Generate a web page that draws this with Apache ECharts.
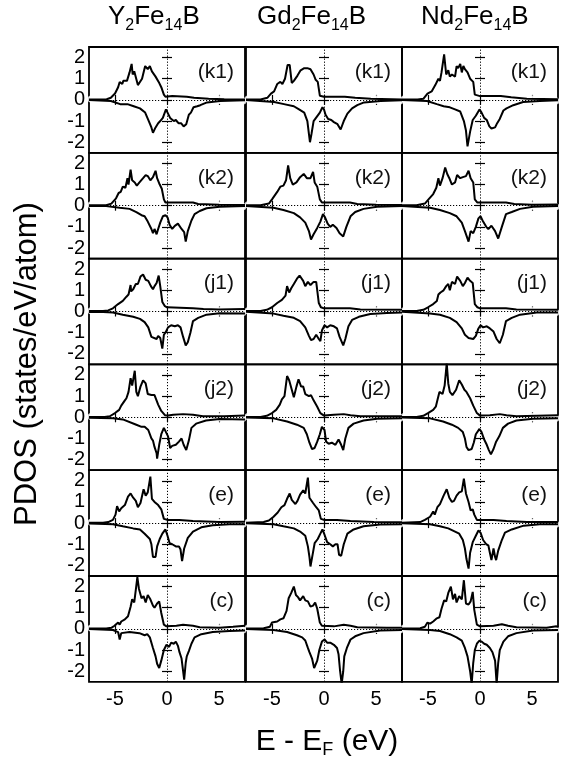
<!DOCTYPE html>
<html><head><meta charset="utf-8">
<script src="https://cdn.jsdelivr.net/npm/echarts@6/dist/echarts.min.js"></script>
<style>html,body{margin:0;padding:0;background:#fff}#c{width:567px;height:765px}</style>
</head><body><div id="c"></div>
<script>
// ---- data: [energy (eV), PDOS (states/eV/atom)] ----
const Y_k1_up=[[-7.5,0.02],[-5.8,0.03],[-5.4,0.1],[-5.0,0.3],[-4.7,0.6],[-4.55,0.85],[-4.3,0.75],[-4.2,0.9],[-3.85,0.9],[-3.6,1.3],[-3.4,1.7],[-3.3,1.2],[-3.15,1.35],[-2.8,0.7],[-2.4,1.0],[-2.1,1.6],[-1.85,1.45],[-1.65,1.6],[-1.45,1.35],[-1.1,1.1],[-0.8,0.85],[-0.55,0.6],[-0.3,0.25],[-0.15,0.15],[0.5,0.18],[1.9,0.15],[2.6,0.1],[4.0,0.05],[5.5,0.03],[7.5,0.02]];
const Y_k1_dn=[[-7.5,-0.01],[-5.4,-0.05],[-4.5,-0.2],[-3.8,-0.2],[-3.2,-0.3],[-2.6,-0.4],[-2.1,-0.6],[-1.75,-1.0],[-1.5,-1.3],[-1.35,-1.55],[-1.1,-1.3],[-0.85,-1.1],[-0.65,-1.0],[-0.4,-0.85],[-0.1,-0.45],[0.05,-0.5],[0.3,-0.85],[0.65,-1.0],[0.85,-0.95],[1.1,-1.1],[1.35,-1.1],[1.6,-1.25],[1.85,-1.15],[2.1,-0.7],[2.3,-0.6],[2.55,-0.35],[2.9,-0.3],[3.2,-0.25],[3.85,-0.12],[5.1,-0.05],[7.5,-0.02]];
const Gd_k1_up=[[-7.5,0.02],[-6.1,0.02],[-5.45,0.1],[-5.1,0.3],[-4.8,0.4],[-4.5,0.75],[-4.2,0.85],[-4.0,0.75],[-3.75,1.0],[-3.5,1.65],[-3.3,1.65],[-3.1,0.8],[-2.9,0.9],[-2.55,1.15],[-2.25,1.4],[-1.9,1.5],[-1.6,1.5],[-1.3,1.45],[-1.0,1.2],[-0.8,0.95],[-0.6,0.85],[-0.4,0.2],[0,0.15],[2.0,0.15],[3.0,0.1],[4.5,0.05],[7.5,0.02]];
const Gd_k1_dn=[[-7.5,-0.01],[-4.8,-0.1],[-3.85,-0.2],[-2.9,-0.3],[-2.4,-0.45],[-1.9,-0.6],[-1.6,-1.0],[-1.45,-1.6],[-1.35,-2.0],[-1.2,-1.6],[-1.0,-1.0],[-0.7,-0.8],[-0.4,-0.6],[-0.15,-0.35],[0,-0.45],[0.15,-0.7],[0.4,-0.9],[0.7,-0.95],[0.95,-1.05],[1.3,-1.15],[1.6,-1.4],[1.9,-1.0],[2.25,-0.65],[2.7,-0.4],[3.2,-0.25],[3.85,-0.12],[5.45,-0.05],[7.5,-0.02]];
const Nd_k1_up=[[-7.5,0.02],[-6.0,0.02],[-5.45,0.05],[-5.05,0.3],[-4.65,0.4],[-4.3,0.7],[-4.0,1.0],[-3.85,0.9],[-3.7,1.3],[-3.45,2.15],[-3.25,1.2],[-3.05,1.4],[-2.9,1.1],[-2.7,1.2],[-2.4,1.1],[-2.25,1.6],[-2.1,1.5],[-1.9,1.7],[-1.75,1.3],[-1.6,1.6],[-1.45,1.45],[-1.2,1.3],[-0.95,1.0],[-0.65,0.85],[-0.5,0.25],[0,0.18],[2.0,0.18],[3.0,0.12],[4.5,0.05],[7.5,0.03]];
const Nd_k1_dn=[[-7.5,-0.01],[-5.1,-0.05],[-4.15,-0.2],[-3.5,-0.3],[-2.9,-0.35],[-2.4,-0.45],[-1.9,-0.55],[-1.55,-1.0],[-1.35,-1.45],[-1.2,-2.2],[-0.95,-1.5],[-0.7,-0.95],[-0.4,-0.75],[-0.05,-0.45],[0.15,-0.6],[0.4,-0.85],[0.65,-0.95],[0.9,-1.25],[1.1,-1.35],[1.45,-1.3],[1.65,-1.1],[1.9,-0.9],[2.25,-0.5],[2.55,-0.4],[3.2,-0.25],[4.15,-0.1],[5.75,-0.05],[7.5,-0.02]];

const Y_k2_up=[[-7.5,0.02],[-5.85,0.02],[-5.35,0.1],[-4.9,0.35],[-4.65,0.6],[-4.45,0.65],[-4.25,0.9],[-4.0,0.85],[-3.8,1.3],[-3.7,1.0],[-3.5,1.7],[-3.35,1.2],[-3.1,1.1],[-2.9,0.95],[-2.65,1.1],[-2.3,1.3],[-2.05,1.45],[-1.85,1.4],[-1.6,1.2],[-1.35,1.35],[-1.1,1.65],[-0.95,1.3],[-0.7,1.0],[-0.5,0.8],[-0.3,0.3],[-0.15,0.15],[2.5,0.15],[3.0,0.08],[5.0,0.05],[7.5,0.03]];
const Y_k2_dn=[[-7.5,-0.01],[-5.85,-0.02],[-4.55,-0.1],[-3.6,-0.15],[-2.95,-0.3],[-2.45,-0.45],[-2.15,-0.5],[-1.85,-0.75],[-1.5,-1.1],[-1.35,-1.3],[-1.2,-1.1],[-1.0,-1.35],[-0.85,-1.1],[-0.65,-0.8],[-0.4,-0.5],[-0.15,-0.45],[0.05,-0.55],[0.25,-0.9],[0.5,-1.1],[0.75,-0.95],[1.05,-0.85],[1.4,-1.1],[1.65,-1.25],[1.8,-1.7],[2.0,-1.2],[2.35,-0.7],[2.65,-0.4],[3.15,-0.25],[3.8,-0.12],[5.05,-0.05],[7.5,-0.02]];
const Gd_k2_up=[[-7.5,0.02],[-6.1,0.02],[-5.3,0.1],[-5.0,0.3],[-4.5,0.65],[-4.2,0.9],[-3.9,0.95],[-3.65,1.2],[-3.45,1.9],[-3.25,1.3],[-3.0,1.0],[-2.65,1.1],[-2.3,1.35],[-1.95,1.5],[-1.65,1.3],[-1.3,1.3],[-1.05,1.6],[-0.9,1.1],[-0.65,0.9],[-0.4,0.3],[-0.2,0.15],[2.5,0.15],[3.2,0.08],[5.0,0.05],[7.5,0.03]];
const Gd_k2_dn=[[-7.5,-0.01],[-4.85,-0.1],[-3.9,-0.2],[-2.9,-0.35],[-2.3,-0.55],[-1.8,-0.8],[-1.45,-1.2],[-1.25,-1.6],[-1.0,-1.35],[-0.65,-1.05],[-0.35,-0.75],[-0.1,-0.4],[0.1,-0.55],[0.35,-0.85],[0.6,-1.0],[0.85,-0.9],[1.2,-1.05],[1.5,-1.3],[1.85,-1.45],[2.15,-1.0],[2.55,-0.5],[3.0,-0.3],[3.8,-0.15],[5.1,-0.05],[7.5,-0.02]];
const Nd_k2_up=[[-7.5,0.02],[-6.1,0.02],[-5.3,0.1],[-4.95,0.3],[-4.5,0.55],[-4.2,0.85],[-4.0,1.3],[-3.85,0.95],[-3.6,1.3],[-3.35,1.8],[-3.15,1.5],[-2.95,1.3],[-2.7,1.0],[-2.4,1.1],[-2.2,1.45],[-1.9,1.3],[-1.65,1.35],[-1.35,1.4],[-1.1,1.65],[-0.9,1.3],[-0.65,1.1],[-0.5,0.3],[-0.25,0.15],[2.5,0.15],[3.3,0.08],[5.0,0.05],[7.5,0.06]];
const Nd_k2_dn=[[-7.5,-0.01],[-4.8,-0.1],[-3.85,-0.2],[-2.9,-0.35],[-2.25,-0.5],[-1.75,-0.8],[-1.45,-1.2],[-1.3,-1.25],[-1.1,-1.7],[-0.9,-1.2],[-0.65,-1.3],[-0.4,-1.0],[-0.15,-0.6],[0.05,-0.5],[0.3,-0.75],[0.6,-1.0],[0.8,-1.1],[1.1,-0.95],[1.45,-1.2],[1.75,-1.55],[2.1,-1.0],[2.5,-0.4],[3.05,-0.3],[3.85,-0.15],[5.1,-0.05],[7.5,-0.02]];

const Y_j1_up=[[-7.5,0.02],[-6.15,0.02],[-5.65,0.05],[-5.2,0.15],[-4.7,0.35],[-4.25,0.5],[-3.9,0.7],[-3.7,0.8],[-3.5,1.25],[-3.45,0.95],[-3.25,1.05],[-3.0,1.3],[-2.8,1.3],[-2.55,1.65],[-2.3,1.75],[-2.05,1.5],[-1.8,1.45],[-1.55,1.2],[-1.35,1.05],[-1.2,1.2],[-1.0,1.35],[-0.8,1.7],[-0.65,1.2],[-0.45,0.45],[-0.2,0.25],[0,0.2],[2.5,0.15],[3.5,0.12],[5.0,0.1],[7.5,0.12]];
const Y_j1_dn=[[-7.5,-0.02],[-6.15,-0.02],[-5.2,-0.05],[-4.25,-0.15],[-3.25,-0.25],[-2.6,-0.35],[-2.15,-0.5],[-1.8,-0.75],[-1.5,-1.2],[-1.35,-1.25],[-1.0,-1.3],[-0.85,-1.15],[-0.65,-1.25],[-0.45,-1.75],[-0.3,-1.1],[-0.15,-1.0],[0.1,-0.75],[0.4,-0.65],[0.75,-0.7],[1.05,-0.65],[1.3,-0.75],[1.55,-1.2],[1.8,-1.6],[2.0,-1.45],[2.25,-1.0],[2.5,-0.45],[3.0,-0.3],[3.8,-0.15],[5.05,-0.08],[7.5,-0.1]];
const Gd_j1_up=[[-7.5,0.02],[-6.1,0.02],[-5.5,0.08],[-5.0,0.2],[-4.5,0.4],[-4.05,0.55],[-3.7,0.75],[-3.55,1.2],[-3.35,0.9],[-3.15,1.1],[-2.9,1.3],[-2.6,1.55],[-2.35,1.7],[-2.0,1.45],[-1.8,1.2],[-1.55,1.4],[-1.3,1.25],[-1.0,1.4],[-0.75,1.4],[-0.5,0.4],[-0.3,0.2],[0,0.15],[2.5,0.15],[3.5,0.1],[7.5,0.08]];
const Gd_j1_dn=[[-7.5,-0.01],[-4.85,-0.1],[-3.9,-0.2],[-2.9,-0.3],[-2.3,-0.45],[-1.8,-0.75],[-1.45,-1.15],[-1.25,-1.35],[-1.0,-1.3],[-0.75,-1.1],[-0.5,-1.3],[-0.35,-1.4],[-0.2,-0.9],[0.05,-0.65],[0.3,-0.75],[0.6,-0.65],[0.95,-0.7],[1.25,-0.8],[1.5,-1.2],[1.85,-1.6],[2.05,-1.3],[2.35,-0.7],[2.7,-0.4],[3.35,-0.25],[4.45,-0.12],[6.05,-0.07],[7.5,-0.05]];
const Nd_j1_up=[[-7.5,0.02],[-6.1,0.02],[-5.45,0.08],[-5.0,0.2],[-4.5,0.35],[-4.15,0.5],[-4.0,0.8],[-3.8,0.9],[-3.5,1.0],[-3.25,1.2],[-3.05,1.3],[-2.9,1.0],[-2.7,1.4],[-2.4,1.3],[-2.2,1.65],[-1.9,1.45],[-1.65,1.2],[-1.45,1.35],[-1.2,1.6],[-0.95,1.45],[-0.7,1.35],[-0.5,0.35],[-0.25,0.2],[0,0.15],[2.5,0.15],[3.5,0.1],[7.5,0.08]];
const Nd_j1_dn=[[-7.5,-0.01],[-4.8,-0.1],[-3.85,-0.15],[-2.9,-0.3],[-2.25,-0.5],[-1.75,-0.8],[-1.45,-1.1],[-1.1,-1.25],[-0.65,-1.3],[-0.4,-1.15],[-0.15,-0.8],[0.05,-0.65],[0.3,-0.75],[0.65,-0.7],[0.95,-0.8],[1.3,-0.95],[1.6,-1.3],[1.9,-1.5],[2.2,-1.1],[2.5,-0.45],[3.05,-0.3],[3.85,-0.15],[5.45,-0.05],[7.5,-0.05]];

const Y_j2_up=[[-7.5,0.02],[-6.0,0.02],[-5.5,0.05],[-5.0,0.2],[-4.6,0.35],[-4.4,0.55],[-4.05,0.8],[-3.9,0.9],[-3.7,1.2],[-3.5,1.85],[-3.35,1.5],[-3.1,2.2],[-2.95,1.2],[-2.8,1.0],[-2.55,1.45],[-2.3,1.75],[-2.05,1.6],[-1.85,1.1],[-1.5,1.05],[-1.2,1.05],[-0.85,0.6],[-0.55,0.3],[-0.2,0.1],[0.1,0.08],[0.6,0.12],[1.55,0.15],[2.5,0.12],[3.45,0.05],[5.5,0.05],[7.5,0.08]];
const Y_j2_dn=[[-7.5,-0.02],[-5.2,-0.05],[-4.25,-0.1],[-2.95,-0.35],[-2.45,-0.45],[-2.15,-0.45],[-1.8,-0.6],[-1.5,-1.0],[-1.35,-1.1],[-1.2,-1.4],[-1.0,-1.7],[-0.95,-1.95],[-0.75,-1.3],[-0.55,-0.8],[-0.3,-0.5],[-0.15,-0.45],[0.1,-0.9],[0.3,-1.45],[0.5,-1.35],[0.85,-1.3],[1.15,-1.15],[1.4,-1.0],[1.6,-1.3],[1.85,-1.55],[2.1,-1.1],[2.35,-0.5],[2.8,-0.3],[3.75,-0.15],[5.05,-0.08],[7.5,-0.1]];
const Gd_j2_up=[[-7.5,0.02],[-6.1,0.02],[-5.5,0.07],[-5.0,0.2],[-4.6,0.35],[-4.25,0.6],[-4.05,0.85],[-3.8,1.0],[-3.55,1.95],[-3.35,1.75],[-3.15,1.4],[-2.9,0.95],[-2.65,1.45],[-2.45,1.8],[-2.2,1.45],[-2.0,1.45],[-1.8,1.1],[-1.45,1.0],[-1.25,1.05],[-1.0,0.8],[-0.65,0.5],[-0.35,0.2],[0,0.08],[0.95,0.12],[1.9,0.15],[2.55,0.1],[3.5,0.05],[7.5,0.05]];
const Gd_j2_dn=[[-7.5,-0.01],[-4.85,-0.05],[-3.55,-0.2],[-2.6,-0.35],[-1.95,-0.5],[-1.65,-0.8],[-1.4,-1.2],[-1.15,-1.5],[-0.9,-1.45],[-0.65,-1.15],[-0.4,-0.8],[-0.2,-0.45],[0.05,-0.6],[0.2,-1.15],[0.45,-1.25],[0.75,-1.2],[1.1,-1.3],[1.4,-1.05],[1.65,-1.3],[1.85,-1.55],[2.05,-1.0],[2.35,-0.5],[2.85,-0.3],[3.8,-0.15],[5.1,-0.07],[7.5,-0.05]];
const Nd_j2_up=[[-7.5,0.02],[-6.1,0.02],[-5.45,0.07],[-5.0,0.2],[-4.5,0.35],[-4.25,0.5],[-4.05,0.9],[-3.9,1.2],[-3.8,1.25],[-3.6,1.1],[-3.4,1.5],[-3.2,2.55],[-3.05,1.6],[-2.9,1.2],[-2.65,1.05],[-2.3,1.3],[-2.0,1.75],[-1.75,1.55],[-1.5,1.3],[-1.3,1.2],[-0.95,0.9],[-0.65,0.55],[-0.3,0.2],[0,0.08],[0.95,0.1],[1.9,0.15],[2.55,0.1],[3.5,0.05],[7.5,0.1]];
const Nd_j2_dn=[[-7.5,-0.01],[-4.8,-0.05],[-3.55,-0.2],[-2.7,-0.35],[-2.1,-0.5],[-1.65,-0.7],[-1.45,-1.0],[-1.3,-1.4],[-1.1,-1.55],[-0.8,-1.5],[-0.6,-1.2],[-0.4,-0.8],[-0.05,-0.55],[0.15,-0.7],[0.4,-1.05],[0.65,-1.3],[0.85,-1.55],[1.05,-1.75],[1.3,-1.5],[1.55,-1.15],[1.85,-0.9],[2.2,-0.5],[2.7,-0.3],[3.5,-0.15],[5.1,-0.07],[7.5,-0.05]];

const Y_e_up=[[-7.5,0.02],[-6.15,0.02],[-5.65,0.05],[-5.2,0.15],[-4.95,0.4],[-4.8,0.8],[-4.6,0.55],[-4.4,0.7],[-4.05,0.85],[-3.75,1.25],[-3.5,1.4],[-3.25,1.2],[-3.0,1.05],[-2.8,0.75],[-2.55,0.95],[-2.25,1.6],[-2.05,1.3],[-1.85,1.45],[-1.6,2.2],[-1.45,1.15],[-1.2,1.0],[-0.85,0.85],[-0.55,0.65],[-0.3,0.2],[0.1,0.15],[1.2,0.15],[2.5,0.1],[5.05,0.05],[7.5,0.06]];
const Y_e_dn=[[-7.5,-0.02],[-5.2,-0.05],[-4.25,-0.15],[-3.25,-0.25],[-2.6,-0.3],[-2.15,-0.5],[-1.65,-0.75],[-1.5,-1.0],[-1.35,-1.6],[-1.25,-1.65],[-1.1,-1.6],[-0.95,-1.1],[-0.7,-0.75],[-0.45,-0.5],[-0.15,-0.3],[0.05,-0.6],[0.25,-0.95],[0.5,-1.0],[0.85,-1.1],[1.15,-1.1],[1.3,-1.25],[1.45,-1.8],[1.65,-1.2],[2.0,-0.7],[2.5,-0.4],[3.3,-0.2],[4.4,-0.1],[6.0,-0.05],[7.5,-0.05]];
const Gd_e_up=[[-7.5,0.02],[-5.8,0.05],[-5.3,0.12],[-4.85,0.3],[-4.45,0.5],[-4.1,0.75],[-3.8,0.85],[-3.55,1.15],[-3.3,1.4],[-3.1,1.1],[-2.75,0.9],[-2.55,1.05],[-2.3,1.35],[-2.0,1.55],[-1.8,1.4],[-1.55,2.15],[-1.4,1.2],[-1.05,0.95],[-0.75,0.75],[-0.5,0.6],[-0.3,0.2],[0.05,0.15],[1.25,0.15],[2.55,0.1],[4.8,0.05],[7.5,0.04]];
const Gd_e_dn=[[-7.5,-0.01],[-4.85,-0.05],[-3.9,-0.15],[-2.9,-0.25],[-2.3,-0.4],[-1.8,-0.6],[-1.55,-1.1],[-1.4,-1.6],[-1.3,-2.05],[-1.1,-1.5],[-0.9,-0.95],[-0.6,-0.75],[-0.35,-0.5],[-0.15,-0.3],[0.05,-0.55],[0.3,-0.9],[0.6,-1.0],[0.85,-1.1],[1.1,-1.0],[1.3,-1.0],[1.45,-1.5],[1.65,-1.55],[1.9,-1.0],[2.25,-0.5],[2.85,-0.3],[3.8,-0.15],[5.4,-0.07],[7.5,-0.05]];
const Nd_e_up=[[-7.5,0.02],[-5.75,0.05],[-5.3,0.15],[-4.8,0.3],[-4.5,0.55],[-4.35,0.4],[-4.1,0.75],[-3.85,0.9],[-3.5,1.3],[-3.2,1.6],[-2.95,1.2],[-2.7,1.0],[-2.5,1.05],[-2.25,1.3],[-2.0,1.45],[-1.75,1.5],[-1.55,2.1],[-1.35,1.4],[-1.1,1.0],[-0.9,0.6],[-0.7,0.65],[-0.55,0.4],[-0.3,0.15],[0,0.15],[1.3,0.15],[2.55,0.1],[4.5,0.05],[7.5,0.05]];
const Nd_e_dn=[[-7.5,-0.01],[-4.8,-0.05],[-3.85,-0.15],[-3.05,-0.25],[-2.4,-0.4],[-2.0,-0.5],[-1.65,-0.8],[-1.45,-1.2],[-1.3,-1.7],[-1.1,-2.15],[-0.95,-1.4],[-0.7,-0.9],[-0.4,-0.6],[-0.15,-0.35],[0.05,-0.45],[0.3,-0.8],[0.6,-1.0],[0.8,-1.05],[0.95,-1.4],[1.1,-1.75],[1.3,-1.2],[1.45,-1.6],[1.55,-1.75],[1.75,-1.3],[2.1,-0.8],[2.4,-0.45],[3.05,-0.3],[4.2,-0.12],[5.75,-0.05],[7.5,-0.05]];

const Y_c_up=[[-7.5,0.02],[-5.85,0.02],[-5.35,0.05],[-5.05,0.15],[-4.7,0.3],[-4.55,0.2],[-4.4,0.35],[-4.05,0.45],[-3.75,0.6],[-3.5,1.05],[-3.35,1.4],[-3.15,1.25],[-3.0,1.85],[-2.85,2.45],[-2.7,1.9],[-2.45,1.45],[-2.25,1.55],[-2.05,1.25],[-1.85,1.6],[-1.6,1.4],[-1.35,1.1],[-1.2,1.0],[-0.95,1.2],[-0.75,1.3],[-0.55,0.75],[-0.3,0.2],[-0.05,0.12],[0.9,0.15],[1.55,0.2],[2.5,0.15],[3.15,0.08],[5.05,0.05],[6.35,0.1],[7.5,0.15]];
const Y_c_dn=[[-7.5,-0.01],[-5.2,-0.05],[-4.7,-0.15],[-4.55,-0.5],[-4.4,-0.2],[-3.6,-0.15],[-2.65,-0.2],[-2.15,-0.3],[-1.9,-0.25],[-1.65,-0.4],[-1.35,-0.9],[-1.1,-1.3],[-0.95,-1.65],[-0.75,-1.85],[-0.55,-1.5],[-0.3,-1.0],[-0.05,-0.75],[0.2,-0.85],[0.4,-0.65],[0.65,-0.7],[0.85,-0.6],[1.05,-0.8],[1.2,-1.1],[1.4,-1.4],[1.55,-2.0],[1.65,-2.4],[1.8,-1.6],[1.9,-1.3],[2.1,-1.05],[2.35,-0.7],[2.65,-0.4],[3.3,-0.25],[4.4,-0.15],[6.0,-0.1],[7.5,-0.08]];
const Gd_c_up=[[-7.5,0.02],[-5.8,0.03],[-5.2,0.1],[-5.0,0.3],[-4.5,0.35],[-4.2,0.45],[-3.9,0.5],[-3.6,0.85],[-3.4,1.45],[-3.15,1.7],[-2.9,2.0],[-2.7,1.6],[-2.5,1.5],[-2.3,1.35],[-2.0,1.55],[-1.8,1.35],[-1.55,1.3],[-1.3,1.05],[-1.05,1.1],[-0.85,1.25],[-0.65,0.95],[-0.4,0.3],[-0.2,0.15],[0.95,0.12],[1.9,0.2],[2.55,0.15],[3.2,0.08],[6.05,0.05],[7.5,0.06]];
const Gd_c_dn=[[-7.5,-0.01],[-4.85,-0.05],[-3.55,-0.15],[-2.6,-0.3],[-2.1,-0.4],[-1.8,-0.55],[-1.55,-0.9],[-1.4,-1.1],[-1.15,-1.4],[-0.95,-1.85],[-0.65,-1.5],[-0.45,-1.0],[-0.2,-0.6],[0.05,-0.5],[0.3,-0.65],[0.6,-0.65],[0.95,-0.75],[1.25,-0.9],[1.4,-1.2],[1.55,-2.0],[1.7,-2.6],[1.85,-2.0],[1.95,-1.3],[2.2,-0.9],[2.55,-0.5],[3.0,-0.35],[3.8,-0.2],[5.4,-0.08],[7.5,-0.05]];
const Nd_c_up=[[-7.5,0.02],[-5.75,0.03],[-5.3,0.1],[-5.05,0.3],[-4.8,0.25],[-4.5,0.35],[-4.15,0.5],[-3.9,0.55],[-3.7,0.95],[-3.45,1.35],[-3.25,1.3],[-3.05,1.7],[-2.8,2.0],[-2.6,1.4],[-2.4,1.65],[-2.25,1.25],[-2.0,1.55],[-1.75,1.4],[-1.55,2.3],[-1.35,1.2],[-1.1,1.15],[-0.9,1.3],[-0.7,1.75],[-0.55,0.9],[-0.3,0.2],[0,0.12],[1.3,0.15],[2.1,0.22],[2.7,0.15],[3.5,0.08],[6.4,0.05],[7.35,0.12],[7.5,0.08]];
const Nd_c_dn=[[-7.5,-0.01],[-4.8,-0.05],[-3.85,-0.1],[-2.9,-0.25],[-2.25,-0.4],[-1.75,-0.55],[-1.45,-0.9],[-1.2,-1.3],[-0.95,-2.0],[-0.8,-2.6],[-0.65,-1.6],[-0.5,-1.0],[-0.3,-0.7],[-0.05,-0.55],[0.15,-0.6],[0.4,-0.7],[0.65,-0.75],[0.95,-0.9],[1.2,-1.1],[1.45,-1.5],[1.6,-2.6],[1.75,-1.6],[1.9,-1.0],[2.25,-0.6],[2.7,-0.35],[3.5,-0.2],[5.1,-0.08],[7.5,-0.05]];

// small grey open-circle trace hugging zero (both spins) in the tails
const nearZeroUp=[[-7.3,0.04],[-6.9,0.05],[-6.5,0.04],[-6.1,0.05],[-5.7,0.04],[3.5,0.05],[3.9,0.04],[4.3,0.05],[4.7,0.04],[5.1,0.05],[5.5,0.04],[5.9,0.05],[6.3,0.04],[6.7,0.05],[7.1,0.05]];
const nearZeroDn=[[-7.1,-0.04],[-6.7,-0.05],[-6.3,-0.04],[-5.9,-0.04],[3.7,-0.05],[4.1,-0.04],[4.5,-0.05],[4.9,-0.04],[5.3,-0.05],[5.7,-0.04],[6.1,-0.05],[6.5,-0.04],[6.9,-0.05],[7.3,-0.05]];

const compounds=['Y','Gd','Nd'];
const compoundTitles=['{a|Y}{s|2}{a|Fe}{s|14}{a|B}','{a|Gd}{s|2}{a|Fe}{s|14}{a|B}','{a|Nd}{s|2}{a|Fe}{s|14}{a|B}'];
const sites=['k1','k2','j1','j2','e','c'];
const xTicks=[-5,0,5];
const yTicks=[-2,-1,0,1,2];
const xRange=[-7.5,7.5];
const yRange=[-2.5,2.5];

const pdos={
  Y:{k1:[Y_k1_up,Y_k1_dn],k2:[Y_k2_up,Y_k2_dn],j1:[Y_j1_up,Y_j1_dn],j2:[Y_j2_up,Y_j2_dn],e:[Y_e_up,Y_e_dn],c:[Y_c_up,Y_c_dn]},
  Gd:{k1:[Gd_k1_up,Gd_k1_dn],k2:[Gd_k2_up,Gd_k2_dn],j1:[Gd_j1_up,Gd_j1_dn],j2:[Gd_j2_up,Gd_j2_dn],e:[Gd_e_up,Gd_e_dn],c:[Gd_c_up,Gd_c_dn]},
  Nd:{k1:[Nd_k1_up,Nd_k1_dn],k2:[Nd_k2_up,Nd_k2_dn],j1:[Nd_j1_up,Nd_j1_dn],j2:[Nd_j2_up,Nd_j2_dn],e:[Nd_e_up,Nd_e_dn],c:[Nd_c_up,Nd_c_dn]}
};

// ---- layout ----
const FONT='"Liberation Sans", Arial, sans-serif';
const colLeft=[89,246,402], colW=156, rowTop0=47, rowH=105.8;
const grids=[], xAxes=[], yAxes=[], series=[], graphics=[];

function axisCommon(){return {axisLine:{show:false},splitLine:{show:false}};}

for(let r=0;r<sites.length;r++){
  for(let c=0;c<compounds.length;c++){
    const gi=grids.length;
    const top=rowTop0+r*rowH;
    grids.push({left:colLeft[c],top:top,width:colW,height:rowH,show:true,borderColor:'#000',borderWidth:1.8,backgroundColor:'transparent'});
    const tick={show:true,inside:true,length:5,customValues:xTicks,lineStyle:{color:'#000',width:1.2}};
    xAxes.push(Object.assign(axisCommon(),{gridIndex:gi,type:'value',min:xRange[0],max:xRange[1],position:'bottom',
      axisTick:tick,axisLabel:{show:r===sites.length-1,customValues:xTicks,fontSize:20,color:'#000',margin:8,fontFamily:FONT}}));
    xAxes.push(Object.assign(axisCommon(),{gridIndex:gi,type:'value',min:xRange[0],max:xRange[1],position:'top',
      axisTick:tick,axisLabel:{show:false}}));
    const ytick={show:true,inside:true,length:5,customValues:yTicks,lineStyle:{color:'#000',width:1.2}};
    yAxes.push(Object.assign(axisCommon(),{gridIndex:gi,type:'value',min:yRange[0],max:yRange[1],position:'left',
      axisTick:ytick,axisLabel:{show:c===0,customValues:yTicks,fontSize:20,color:'#000',margin:4,fontFamily:FONT}}));
    yAxes.push(Object.assign(axisCommon(),{gridIndex:gi,type:'value',min:yRange[0],max:yRange[1],position:'right',
      axisTick:ytick,axisLabel:{show:false}}));
    const xi=2*gi, yi=2*gi;
    const [up,dn]=pdos[compounds[c]][sites[r]];
    series.push({type:'scatter',xAxisIndex:xi,yAxisIndex:yi,data:nearZeroUp,symbol:'emptyCircle',symbolSize:5,
      itemStyle:{color:'#fff',borderColor:'#666',borderWidth:1},silent:true,z:1});
    series.push({type:'scatter',xAxisIndex:xi,yAxisIndex:yi,data:nearZeroDn,symbol:'emptyCircle',symbolSize:5,
      itemStyle:{color:'#fff',borderColor:'#666',borderWidth:1},silent:true,z:1});
    series.push({type:'line',xAxisIndex:xi,yAxisIndex:yi,data:up,showSymbol:false,symbol:'none',
      lineStyle:{color:'#000',width:2},silent:true,z:3,
      markLine:{silent:true,symbol:'none',label:{show:false},animation:false,
        lineStyle:{type:[1.2,1.8],color:'#000',width:1},data:[{xAxis:0},{yAxis:0}]}});
    series.push({type:'line',xAxisIndex:xi,yAxisIndex:yi,data:dn,showSymbol:false,symbol:'none',
      lineStyle:{color:'#000',width:2},silent:true,z:3});
    graphics.push({type:'text',x:colLeft[c]+colW-11,y:top+25,
      style:{text:'('+sites[r]+')',font:'21px '+FONT,fill:'#111',textAlign:'right',textVerticalAlign:'middle'}});
  }
}

const headerX=[108,257,421];
compoundTitles.forEach((t,i)=>{
  graphics.push({type:'text',x:headerX[i],y:4,style:{text:t,fill:'#000',textAlign:'left',textVerticalAlign:'top',
    rich:{a:{fontSize:26,fontFamily:FONT,lineHeight:30,verticalAlign:'top',fill:'#000'},
          s:{fontSize:16,fontFamily:FONT,lineHeight:8,verticalAlign:'bottom',fill:'#000'}}}});
});
graphics.push({type:'text',x:27,y:364,rotation:Math.PI/2,
  style:{text:'PDOS (states/eV/atom)',font:'31px '+FONT,fill:'#000',textAlign:'center',textVerticalAlign:'middle'}});
graphics.push({type:'text',x:327,y:727,
  style:{text:'{a|E - E}{s|F}{a| (eV)}',fill:'#000',textAlign:'center',textVerticalAlign:'top',
    rich:{a:{fontSize:30,fontFamily:FONT,lineHeight:32,verticalAlign:'top',fill:'#000'},
          s:{fontSize:18,fontFamily:FONT,lineHeight:8,verticalAlign:'bottom',fill:'#000'}}}});

const chart=echarts.init(document.getElementById('c'),null,{renderer:'canvas'});
chart.setOption({animation:false,backgroundColor:'#fff',grid:grids,xAxis:xAxes,yAxis:yAxes,series:series,graphic:graphics});
</script></body></html>
